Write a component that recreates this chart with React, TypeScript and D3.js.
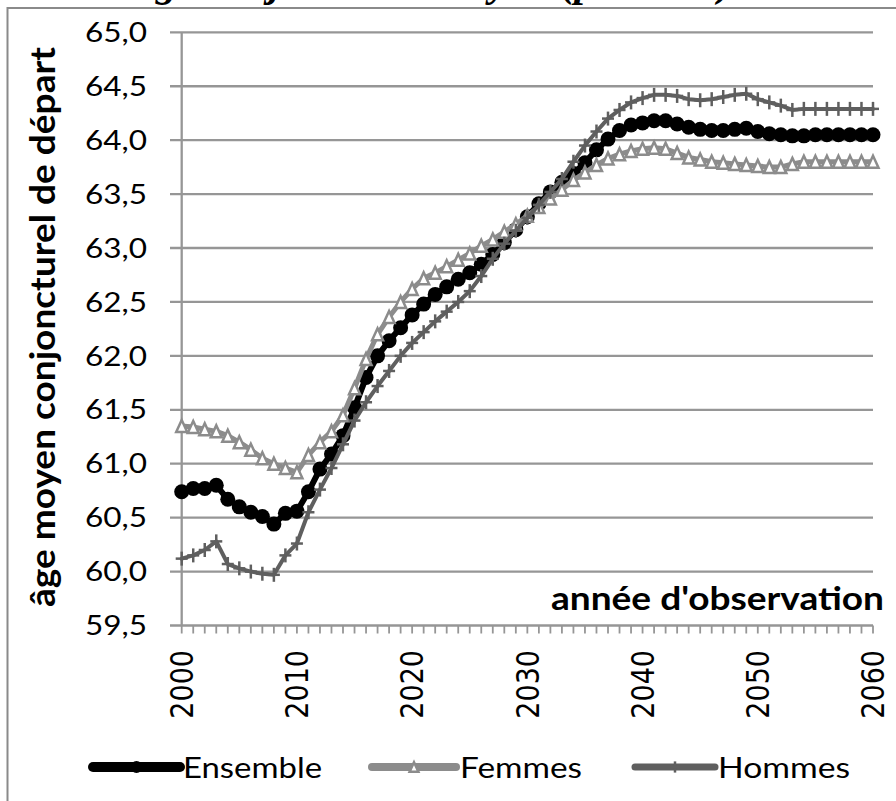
import React from 'react';
import * as d3 from 'd3';

// années d'observation
const years = d3.range(2000, 2061);

// âge moyen conjoncturel de départ, par année
const ensemble = [
  60.74, 60.77, 60.77, 60.8, 60.67, 60.6, 60.55, 60.51, 60.44, 60.54,
  60.56, 60.74, 60.95, 61.09, 61.26, 61.52, 61.8, 62.0, 62.14, 62.26,
  62.38, 62.48, 62.57, 62.64, 62.71, 62.77, 62.85, 62.94, 63.05, 63.17,
  63.29, 63.41, 63.52, 63.61, 63.69, 63.79, 63.91, 64.01, 64.09, 64.14,
  64.16, 64.18, 64.18, 64.15, 64.12, 64.1, 64.09, 64.09, 64.1, 64.11,
  64.08, 64.06, 64.05, 64.04, 64.04, 64.05, 64.05, 64.05, 64.05, 64.05,
  64.05,
];
const femmes = [
  61.35, 61.34, 61.32, 61.3, 61.26, 61.2, 61.13, 61.05, 61.0, 60.96,
  60.92, 61.08, 61.2, 61.3, 61.45, 61.7, 61.97, 62.2, 62.36, 62.5,
  62.62, 62.72, 62.77, 62.83, 62.89, 62.95, 63.02, 63.08, 63.15, 63.22,
  63.3, 63.38, 63.46, 63.54, 63.63, 63.7, 63.77, 63.83, 63.87, 63.9,
  63.92, 63.93, 63.92, 63.88, 63.84, 63.82, 63.8, 63.79, 63.78, 63.77,
  63.76, 63.75, 63.75, 63.78, 63.8, 63.8, 63.8, 63.8, 63.8, 63.8,
  63.8,
];
const hommes = [
  60.12, 60.15, 60.2, 60.28, 60.07, 60.03, 60.0, 59.98, 59.97, 60.15,
  60.26, 60.55, 60.76, 60.96, 61.18, 61.4, 61.57, 61.72, 61.86, 62.0,
  62.12, 62.22, 62.32, 62.41, 62.5, 62.6, 62.74, 62.9, 63.04, 63.16,
  63.28, 63.4, 63.52, 63.64, 63.8, 63.95, 64.08, 64.2, 64.28, 64.35,
  64.39, 64.42, 64.42, 64.41, 64.38, 64.37, 64.38, 64.4, 64.42, 64.43,
  64.38, 64.35, 64.32, 64.28, 64.29, 64.29, 64.29, 64.29, 64.29, 64.29,
  64.29,
];

const yTicks = [59.5, 60, 60.5, 61, 61.5, 62, 62.5, 63, 63.5, 64, 64.5, 65];
const xTicks = [2000, 2010, 2020, 2030, 2040, 2050, 2060];
const seriesNames = ['Ensemble', 'Femmes', 'Hommes'];

const titleText = 'Âge conjoncturel moyen (par sexe)';
const yTitle = 'âge moyen conjoncturel de départ';
const xTitle = "année d'observation";

const SANS = 'Lato, "Open Sans", sans-serif';
const GRID = '#969696';
const SX = 1.15; // étirement horizontal du texte

function Marker({ kind, x, y, color, s = 1 }: { kind: string; x: number; y: number; color: string; s?: number }) {
  if (kind === 'Ensemble') return <circle cx={x} cy={y} r={7.5 * s} fill={color} />;
  if (kind === 'Femmes') {
    const h = 12 * s, w = 11 * s;
    return (
      <path
        d={`M${x},${y - h / 2}L${x + w / 2},${y + h / 2}L${x - w / 2},${y + h / 2}Z`}
        fill="#fff" stroke={color} strokeWidth={2.5} strokeLinejoin="miter" />
    );
  }
  return (
    <g stroke={color} strokeWidth={2.5}>
      <line x1={x} x2={x} y1={y - 7 * s} y2={y + 7 * s} />
      <line x1={x - 6 * s} x2={x + 6 * s} y1={y} y2={y} />
    </g>
  );
}

export default function App() {
  const x = d3.scaleLinear().domain([2000, 2060]).range([181.7, 873]);
  const y = d3.scaleLinear().domain([59.5, 65]).range([625.5, 32.3]);

  const line = d3.line<number>()
    .x((_, i) => x(years[i]))
    .y((d) => y(d));

  const series = [
    { name: seriesNames[0], values: ensemble, color: '#000000', width: 6 },
    { name: seriesNames[1], values: femmes, color: '#8c8c8c', width: 5 },
    { name: seriesNames[2], values: hommes, color: '#5f5f5f', width: 4 },
  ];

  const legend = [
    { x1: 93, x2: 180, tx: 183, tl: 139, lw: 10 },
    { x1: 372, x2: 456, tx: 460, tl: 122, lw: 8 },
    { x1: 635, x2: 715, tx: 718, tl: 132, lw: 7 },
  ];

  return (
    <svg width={896} height={801} style={{ position: 'absolute', left: 0, top: 0, background: '#fff' }}>
      <rect x={0} y={0} width={896} height={801} fill="#fff" />
      {/* titre, coupé en haut de l'image */}
      <text x={128} y={-4} fontFamily='"Liberation Serif", serif' fontWeight="bold" fontStyle="italic"
        fontSize={42} textLength={604} lengthAdjust="spacingAndGlyphs">{titleText}</text>
      {/* cadre */}
      <rect x={7.5} y={8} width={920} height={820} fill="none" stroke="#8a8a8a" strokeWidth={2} />

      {/* grille */}
      {yTicks.map((t) => (
        <line key={t} x1={170} x2={873} y1={y(t)} y2={y(t)} stroke={GRID} strokeWidth={2.3} />
      ))}
      <line x1={x(2000)} x2={x(2000)} y1={y(65)} y2={y(59.5)} stroke={GRID} strokeWidth={2.3} />
      {years.map((yr) => (
        <line key={yr} x1={x(yr)} x2={x(yr)} y1={y(59.5)} y2={y(59.5) + 8} stroke={GRID} strokeWidth={1.8} />
      ))}

      {/* étiquettes de l'axe vertical */}
      {yTicks.map((t) => (
        <text key={t} x={85} y={y(t) + 9.7} fontFamily={SANS} fontSize={27}
          textLength={62} lengthAdjust="spacingAndGlyphs">
          {d3.format('.1f')(t).replace('.', ',')}
        </text>
      ))}

      {/* étiquettes de l'axe horizontal */}
      {xTicks.map((t) => (
        <text key={t} transform={`translate(${x(t) + 11.3},650) scale(${SX},1) rotate(-90)`}
          textAnchor="end" fontFamily='"DejaVu Sans", sans-serif' fontSize={27}>
          {t}
        </text>
      ))}

      {/* titres des axes */}
      <text transform={`translate(55,327) scale(${SX},1) rotate(-90)`} textAnchor="middle"
        fontFamily={SANS} fontWeight="bold" fontSize={29} textLength={560} lengthAdjust="spacingAndGlyphs">
        {yTitle}
      </text>
      <text x={551} y={610} fontFamily={SANS} fontWeight="bold" fontSize={33}
        textLength={333} lengthAdjust="spacingAndGlyphs">
        {xTitle}
      </text>

      {/* séries */}
      {series.map((s) => (
        <g key={s.name}>
          <path d={line(s.values) ?? ''} fill="none" stroke={s.color} strokeWidth={s.width}
            strokeLinejoin="round" strokeLinecap="round" />
          {s.values.map((v, i) => (
            <Marker key={i} kind={s.name} x={x(years[i])} y={y(v)} color={s.color} />
          ))}
        </g>
      ))}

      {/* légende */}
      {series.map((s, i) => {
        const l = legend[i];
        const cx = (l.x1 + l.x2) / 2;
        return (
          <g key={s.name}>
            <line x1={l.x1} x2={l.x2} y1={767} y2={767} stroke={s.color} strokeWidth={l.lw} strokeLinecap="round" />
            <Marker kind={s.name} x={cx} y={767} color={s.color} s={0.8} />
            <text x={l.tx} y={778} fontFamily={SANS} fontSize={29} textLength={l.tl} lengthAdjust="spacingAndGlyphs">
              {s.name}
            </text>
          </g>
        );
      })}
    </svg>
  );
}
